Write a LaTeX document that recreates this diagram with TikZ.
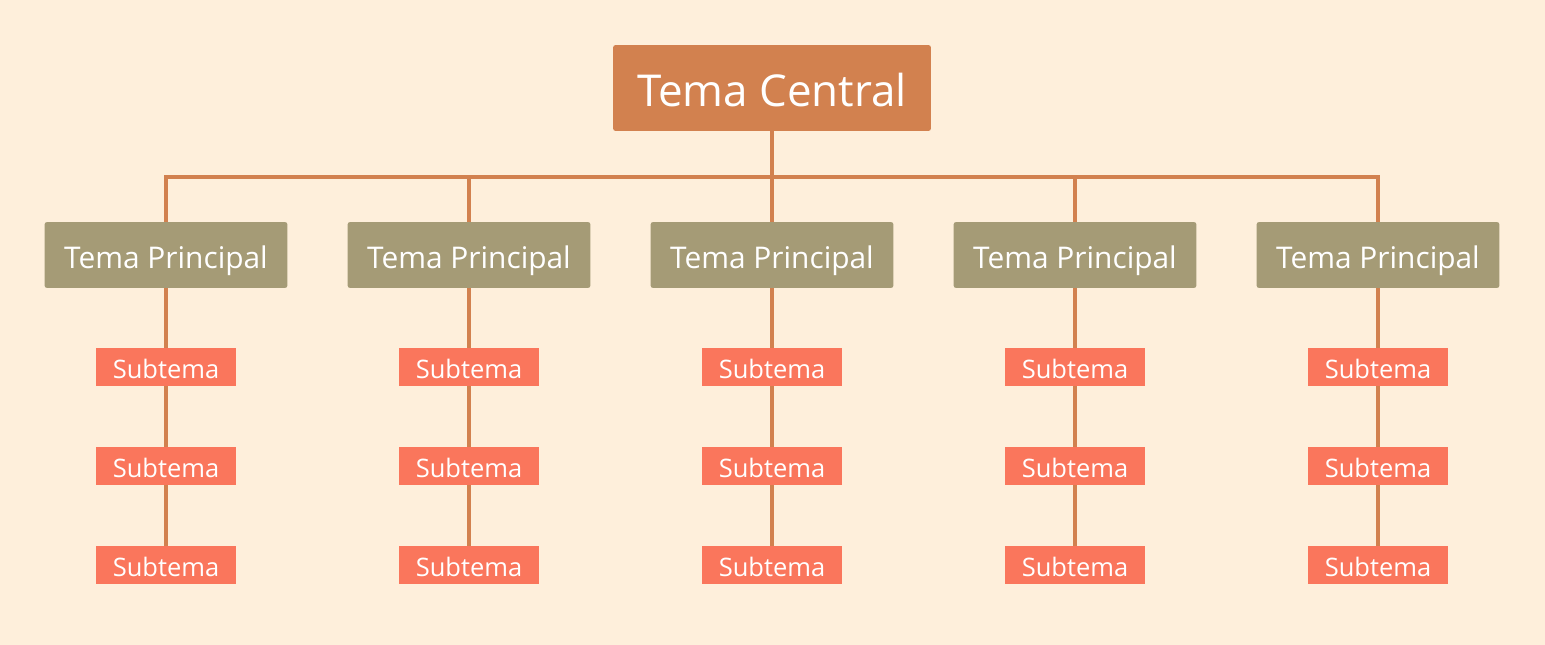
\documentclass[tikz,border=0pt]{standalone}
\usepackage{fontspec}
\setmainfont{Open Sans}
\usepackage{tikz}

\definecolor{bgcol}{HTML}{FEEFDB}
\definecolor{centralcol}{HTML}{D2814F}
\definecolor{principalcol}{HTML}{A59B76}
\definecolor{subcol}{HTML}{FA765C}
\definecolor{linkcol}{HTML}{D2814F}

\tikzset{
  central/.style={fill=centralcol,text=white,rounded corners=1.5pt,minimum width=6.36cm,minimum height=1.72cm,text height=21.5pt,text depth=0pt,font=\fontsize{25}{30}\selectfont},
  principal/.style={fill=principalcol,text=white,rounded corners=1.5pt,minimum width=4.86cm,minimum height=1.32cm,text height=15pt,text depth=0pt,font=\fontsize{17}{20}\selectfont},
  subtopic/.style={fill=subcol,text=white,minimum width=2.8cm,minimum height=0.76cm,text height=12.6pt,text depth=0pt,font=\fontsize{14.5}{17}\selectfont},
  link/.style={draw=linkcol,line width=1.8pt}
}

\begin{document}
\begin{tikzpicture}[x=0.02cm,y=-0.02cm]
\fill[bgcol] (0,0) rectangle (1545,645);

% central topic
\node[central] (central) at (772,88) {Tema Central};
\coordinate (bus) at (772,177);

% main topics
\node[principal] (p1) at (166,255) {Tema Principal};
\node[principal] (p2) at (469,255) {Tema Principal};
\node[principal] (p3) at (772,255) {Tema Principal};
\node[principal] (p4) at (1075,255) {Tema Principal};
\node[principal] (p5) at (1378,255) {Tema Principal};

% subtopics
\node[subtopic] (s1a) at (166,367) {Subtema};
\node[subtopic] (s1b) at (166,466) {Subtema};
\node[subtopic] (s1c) at (166,565) {Subtema};
\node[subtopic] (s2a) at (469,367) {Subtema};
\node[subtopic] (s2b) at (469,466) {Subtema};
\node[subtopic] (s2c) at (469,565) {Subtema};
\node[subtopic] (s3a) at (772,367) {Subtema};
\node[subtopic] (s3b) at (772,466) {Subtema};
\node[subtopic] (s3c) at (772,565) {Subtema};
\node[subtopic] (s4a) at (1075,367) {Subtema};
\node[subtopic] (s4b) at (1075,466) {Subtema};
\node[subtopic] (s4c) at (1075,565) {Subtema};
\node[subtopic] (s5a) at (1378,367) {Subtema};
\node[subtopic] (s5b) at (1378,466) {Subtema};
\node[subtopic] (s5c) at (1378,565) {Subtema};

% connectors
\draw[link] (central) -- (bus);
\draw[link] (bus) -| (p1.north);
\draw[link] (bus) -| (p2.north);
\draw[link] (bus) -- (p3.north);
\draw[link] (bus) -| (p4.north);
\draw[link] (bus) -| (p5.north);

\draw[link] (p1) -- (s1a) -- (s1b) -- (s1c);
\draw[link] (p2) -- (s2a) -- (s2b) -- (s2c);
\draw[link] (p3) -- (s3a) -- (s3b) -- (s3c);
\draw[link] (p4) -- (s4a) -- (s4b) -- (s4c);
\draw[link] (p5) -- (s5a) -- (s5b) -- (s5c);
\end{tikzpicture}
\end{document}
